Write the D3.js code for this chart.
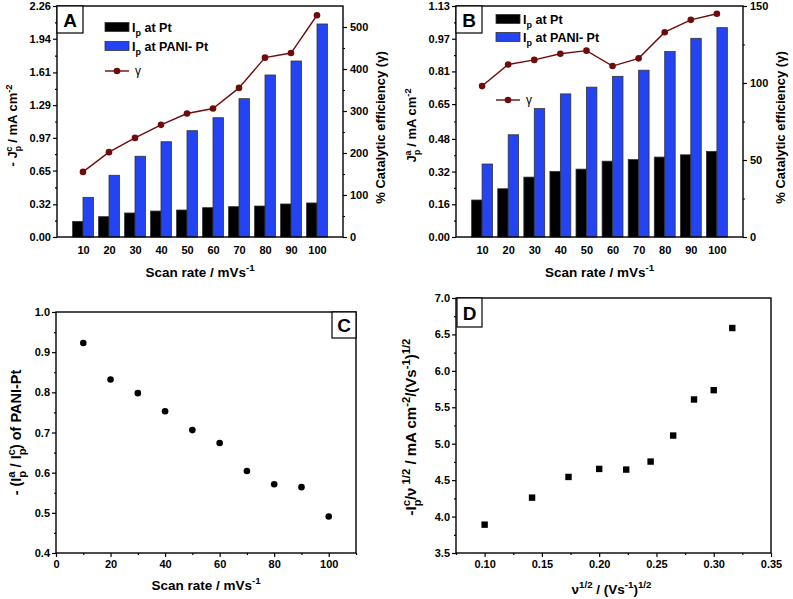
<!DOCTYPE html>
<html>
<head>
<meta charset="utf-8">
<script src="https://cdn.jsdelivr.net/npm/d3@7"></script>
<style>
  body { margin: 0; background: #fff; }
  svg { font-family: "Liberation Sans", Arial, sans-serif; font-weight: bold; }
</style>
</head>
<body>
<svg id="chart" width="793" height="599"></svg>
<script>
// data
const scanRates = [10, 20, 30, 40, 50, 60, 70, 80, 90, 100];

// panel A (cathodic)
const aPt = [0.153, 0.199, 0.235, 0.254, 0.264, 0.287, 0.297, 0.303, 0.323, 0.333];
const aPani = [0.388, 0.604, 0.79, 0.932, 1.04, 1.167, 1.353, 1.585, 1.722, 2.084];
const aGamma = [155, 202, 236, 267, 294, 306, 355, 427, 438, 528];

// panel B (anodic)
const bPt = [0.181, 0.236, 0.293, 0.321, 0.332, 0.371, 0.379, 0.391, 0.402, 0.419];
const bPani = [0.357, 0.5, 0.628, 0.7, 0.733, 0.786, 0.816, 0.907, 0.972, 1.024];
const bGamma = [98, 112, 115, 119, 121, 111, 116, 133, 141, 145];

// panel C
const cRatio = [0.923, 0.832, 0.798, 0.753, 0.706, 0.674, 0.604, 0.571, 0.564, 0.491];

// panel D
const dSqrtV = [0.1, 0.1414, 0.1732, 0.2, 0.2236, 0.2449, 0.2646, 0.2828, 0.3, 0.3162];
const dNorm = [3.889, 4.26, 4.544, 4.654, 4.645, 4.755, 5.112, 5.607, 5.735, 6.588];

// tick values
const aLeftTicks = [0, 0.32, 0.65, 0.97, 1.29, 1.61, 1.94, 2.26];
const aRightTicks = [0, 100, 200, 300, 400, 500];
const bLeftTicks = [0, 0.16, 0.32, 0.48, 0.65, 0.81, 0.97, 1.13];
const bRightTicks = [0, 50, 100, 150];
const cXTicks = [0, 20, 40, 60, 80, 100];
const cYTicks = [0.4, 0.5, 0.6, 0.7, 0.8, 0.9, 1.0];
const dXTicks = [0.10, 0.15, 0.20, 0.25, 0.30, 0.35];
const dYTicks = [3.5, 4.0, 4.5, 5.0, 5.5, 6.0, 6.5, 7.0];

const BLUE = "#2443f2";
const RED = "#6e0c0c";
const svg = d3.select("#chart");

// text with sub/superscripts: parts = [text, mode, dx]; mode 1 sup, -1 sub
function rich(sel, parts, size, ratio = 0.72) {
  let cur = 0;
  parts.forEach(([t, m, dx]) => {
    const shift = m === 1 ? -0.42 * size : m === -1 ? 0.32 * size : 0;
    const ts = sel.append("tspan").text(t).attr("dy", shift - cur);
    if (m) ts.attr("font-size", size * ratio);
    if (dx) ts.attr("dx", dx);
    cur = shift;
  });
  return sel;
}

function styleAxis(g) {
  g.selectAll("path.domain").remove();
  g.selectAll("line").attr("stroke", "#000").attr("stroke-width", 1.2);
  g.selectAll("text").attr("font-size", 11).attr("fill", "#000")
    .attr("font-family", "Liberation Sans, Arial, sans-serif").attr("font-weight", "bold");
}

function minors(ticks) {
  const out = [];
  for (let i = 0; i < ticks.length - 1; i++) out.push((ticks[i] + ticks[i + 1]) / 2);
  return out;
}

function frame(box) {
  svg.append("rect").attr("x", box.l).attr("y", box.t)
    .attr("width", box.r - box.l).attr("height", box.b - box.t)
    .attr("fill", "none").attr("stroke", "#000").attr("stroke-width", 1.4);
}

function letterBox(x, y, w, h, letter) {
  svg.append("rect").attr("x", x).attr("y", y).attr("width", w).attr("height", h)
    .attr("fill", "#fff").attr("stroke", "#000").attr("stroke-width", 1.2);
  svg.append("text").attr("x", x + w / 2).attr("y", y + h / 2 + 7)
    .attr("text-anchor", "middle").attr("font-size", 19).text(letter);
}

function yTitle(x, y, parts, size, ratio) {
  const t = svg.append("text").attr("transform", `translate(${x},${y}) rotate(-90)`)
    .attr("text-anchor", "middle").attr("font-size", size);
  rich(t, parts, size, ratio);
}

function xTitle(x, y, parts, size) {
  const t = svg.append("text").attr("x", x).attr("y", y)
    .attr("text-anchor", "middle").attr("font-size", size);
  rich(t, parts, size);
}

// ---------- bar panels (A and B) ----------
function barPanel(o) {
  const box = o.box;
  const x = d3.scaleLinear().domain([0, 110]).range([box.l, box.r]);
  const y = d3.scaleLinear().domain([0, o.leftMax]).range([box.b, box.t]);
  const y2 = d3.scaleLinear().domain([0, o.rightMax]).range([box.b, box.t]);
  const bw = x(4) - x(0);

  const bars = svg.append("g");
  bars.selectAll("rect.pt").data(o.pt).join("rect")
    .attr("x", (d, i) => x(scanRates[i]) - bw).attr("y", d => y(d))
    .attr("width", bw).attr("height", d => y(0) - y(d))
    .attr("fill", "#000").attr("stroke", "#333").attr("stroke-width", 0.8);
  bars.selectAll("rect.pani").data(o.pani).join("rect")
    .attr("x", (d, i) => x(scanRates[i])).attr("y", d => y(d))
    .attr("width", bw).attr("height", d => y(0) - y(d))
    .attr("fill", BLUE).attr("stroke", "#333").attr("stroke-width", 0.8);

  const line = d3.line().x((d, i) => x(scanRates[i])).y(d => y2(d));
  svg.append("path").datum(o.gamma).attr("d", line)
    .attr("fill", "none").attr("stroke", RED).attr("stroke-width", 1.4);
  svg.append("g").selectAll("circle").data(o.gamma).join("circle")
    .attr("cx", (d, i) => x(scanRates[i])).attr("cy", d => y2(d)).attr("r", 3.3)
    .attr("fill", RED);

  frame(box);

  const fmt = d3.format(".2f");
  svg.append("g").attr("transform", `translate(${box.l},0)`)
    .call(d3.axisLeft(y).tickValues(o.leftTicks).tickFormat(fmt).tickSize(4).tickPadding(2).tickSizeOuter(0))
    .call(styleAxis);
  svg.append("g").attr("transform", `translate(${box.l},0)`)
    .call(d3.axisLeft(y).tickValues(minors(o.leftTicks)).tickFormat("").tickSize(2).tickSizeOuter(0))
    .call(styleAxis);
  svg.append("g").attr("transform", `translate(${box.r},0)`)
    .call(d3.axisRight(y2).tickValues(o.rightTicks).tickSize(4).tickPadding(3).tickSizeOuter(0))
    .call(styleAxis);
  svg.append("g").attr("transform", `translate(${box.r},0)`)
    .call(d3.axisRight(y2).tickValues(minors(o.rightTicks)).tickFormat("").tickSize(2).tickSizeOuter(0))
    .call(styleAxis);
  svg.append("g").attr("transform", `translate(0,${box.b})`)
    .call(d3.axisBottom(x).tickValues(scanRates).tickSize(0).tickPadding(9).tickSizeOuter(0))
    .call(styleAxis);

  // legend
  const lg = o.legend;
  svg.append("rect").attr("x", lg.x).attr("y", lg.y1 - 4.5).attr("width", 24).attr("height", 9)
    .attr("fill", "#000").attr("stroke", "#333").attr("stroke-width", 0.8);
  svg.append("rect").attr("x", lg.x).attr("y", lg.y2 - 4.5).attr("width", 24).attr("height", 9)
    .attr("fill", BLUE).attr("stroke", "#333").attr("stroke-width", 0.8);
  rich(svg.append("text").attr("x", lg.x + 27).attr("y", lg.y1 + 5).attr("font-size", 12.5),
    [["I", 0], ["p", -1], [" at Pt", 0]], 12.5);
  rich(svg.append("text").attr("x", lg.x + 27).attr("y", lg.y2 + 5).attr("font-size", 12.5),
    [["I", 0], ["p", -1], [" at PANI- Pt", 0]], 12.5);
  svg.append("line").attr("x1", lg.x).attr("x2", lg.x + 24).attr("y1", lg.y3).attr("y2", lg.y3)
    .attr("stroke", RED).attr("stroke-width", 1.4);
  svg.append("circle").attr("cx", lg.x + 12).attr("cy", lg.y3).attr("r", 3.3).attr("fill", RED);
  svg.append("text").attr("x", lg.x + 30).attr("y", lg.y3 + 4).attr("font-size", 12)
    .attr("font-weight", "normal").text("γ");

  letterBox(box.l, box.t, 26, 27, o.letter);

  yTitle(box.l - 40, (box.t + box.b) / 2 + 4, o.leftTitle, 13);
  yTitle(box.r + 42, (box.t + box.b) / 2 + 6,
    [["% Catalytic efficiency ", 0], ["(", 0], ["γ", 0], [")", 0]], 13);
  xTitle((box.l + box.r) / 2, box.b + 40, [["Scan rate / mVs", 0], ["-1", 1]], 13.5);
}

barPanel({
  box: { l: 57, r: 343, t: 6, b: 237 },
  leftMax: 2.26, rightMax: 550,
  leftTicks: aLeftTicks, rightTicks: aRightTicks,
  pt: aPt, pani: aPani, gamma: aGamma,
  legend: { x: 105, y1: 27, y2: 46, y3: 71 },
  letter: "A",
  leftTitle: [["- J", 0], ["p", -1], ["c", 1, -6], [" / mA cm", 0], ["-2", 1]]
});

barPanel({
  box: { l: 456, r: 743, t: 6, b: 237 },
  leftMax: 1.13, rightMax: 150,
  leftTicks: bLeftTicks, rightTicks: bRightTicks,
  pt: bPt, pani: bPani, gamma: bGamma,
  legend: { x: 496, y1: 19, y2: 37, y3: 100 },
  letter: "B",
  leftTitle: [["J", 0], ["p", -1], ["a", 1, -6], [" / mA cm", 0], ["-2", 1]]
});

// ---------- panel C ----------
(function () {
  const box = { l: 56, r: 356, t: 312, b: 553 };
  const x = d3.scaleLinear().domain([0, 110]).range([box.l, box.r]);
  const y = d3.scaleLinear().domain([0.4, 1.0]).range([box.b, box.t]);
  frame(box);
  svg.append("g").selectAll("circle").data(cRatio).join("circle")
    .attr("cx", (d, i) => x(scanRates[i])).attr("cy", d => y(d)).attr("r", 3.3).attr("fill", "#000");
  svg.append("g").attr("transform", `translate(${box.l},0)`)
    .call(d3.axisLeft(y).tickValues(cYTicks).tickFormat(d3.format(".1f")).tickSize(4).tickPadding(2).tickSizeOuter(0))
    .call(styleAxis);
  svg.append("g").attr("transform", `translate(${box.l},0)`)
    .call(d3.axisLeft(y).tickValues(minors(cYTicks)).tickFormat("").tickSize(2).tickSizeOuter(0))
    .call(styleAxis);
  svg.append("g").attr("transform", `translate(0,${box.b})`)
    .call(d3.axisBottom(x).tickValues(cXTicks).tickSize(4).tickPadding(3).tickSizeOuter(0))
    .call(styleAxis);
  svg.append("g").attr("transform", `translate(0,${box.b})`)
    .call(d3.axisBottom(x).tickValues(minors(cXTicks).concat([110])).tickFormat("").tickSize(2).tickSizeOuter(0))
    .call(styleAxis);
  letterBox(332, 312, 24, 26, "C");
  yTitle(box.l - 35, (box.t + box.b) / 2,
    [["- (I", 0], ["p", -1], ["a", 1, -7], [" / I", 0], ["p", -1], ["c", 1, -7], [") of PANI-Pt", 0]], 14.5, 0.78);
  xTitle((box.l + box.r) / 2, 590, [["Scan rate / mVs", 0], ["-1", 1]], 13.5);
})();

// ---------- panel D ----------
(function () {
  const box = { l: 456, r: 771, t: 298, b: 553 };
  const x = d3.scaleLinear().domain([0.075, 0.35]).range([box.l, box.r]);
  const y = d3.scaleLinear().domain([3.5, 7.0]).range([box.b, box.t]);
  frame(box);
  svg.append("g").selectAll("rect").data(dNorm).join("rect")
    .attr("x", (d, i) => x(dSqrtV[i]) - 3.2).attr("y", d => y(d) - 3.2)
    .attr("width", 6.4).attr("height", 6.4).attr("fill", "#000");
  svg.append("g").attr("transform", `translate(${box.l},0)`)
    .call(d3.axisLeft(y).tickValues(dYTicks).tickFormat(d3.format(".1f")).tickSize(4).tickPadding(2).tickSizeOuter(0))
    .call(styleAxis);
  svg.append("g").attr("transform", `translate(${box.l},0)`)
    .call(d3.axisLeft(y).tickValues(minors(dYTicks)).tickFormat("").tickSize(2).tickSizeOuter(0))
    .call(styleAxis);
  svg.append("g").attr("transform", `translate(0,${box.b})`)
    .call(d3.axisBottom(x).tickValues(dXTicks).tickFormat(d3.format(".2f")).tickSize(4).tickPadding(3).tickSizeOuter(0))
    .call(styleAxis);
  svg.append("g").attr("transform", `translate(0,${box.b})`)
    .call(d3.axisBottom(x).tickValues([0.075].concat(minors(dXTicks))).tickFormat("").tickSize(2).tickSizeOuter(0))
    .call(styleAxis);
  letterBox(457, 298, 25, 29, "D");
  yTitle(box.l - 40, 427,
    [["-I", 0], ["p", -1], ["c", 1, -7], ["/ν", 0], [" 1/2", 1], [" / mA cm", 0], ["-2", 1],
     ["/(Vs", 0], ["-1", 1], [")", 0], ["1/2", 1]], 15, 0.75);
  xTitle((box.l + box.r) / 2 - 2, 594,
    [["ν", 0], ["1/2", 1], [" / (Vs", 0], ["-1", 1], [")", 0], ["1/2", 1]], 13.5);
})();
</script>
</body>
</html>
